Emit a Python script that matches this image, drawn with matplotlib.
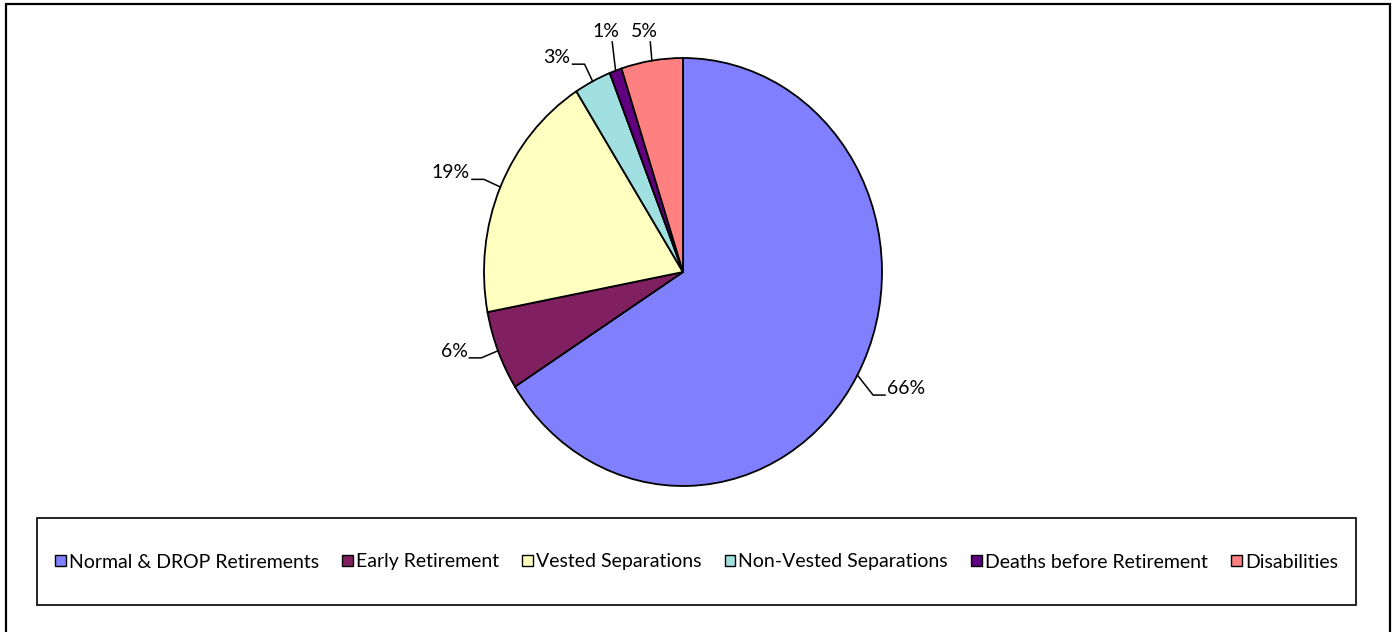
import numpy as np
import matplotlib
matplotlib.use("Agg")
import matplotlib.pyplot as plt
from matplotlib.patches import Rectangle

plt.rcParams['font.family'] = ['Lato', 'DejaVu Sans']

categories = ['Normal & DROP Retirements', 'Early Retirement', 'Vested Separations',
              'Non-Vested Separations', 'Deaths before Retirement', 'Disabilities']
shares = [66, 6, 19, 3, 1, 5]
colors = ['#8080FF', '#802060', '#FFFFC0', '#A0E0E0', '#600080', '#FF8080']

W, H = 1393, 632
fig = plt.figure(figsize=(W / 100, H / 100), dpi=100)

# outer chart border
fig.patches.append(Rectangle((6 / W, -0.01), 1384 / W, 1 - 4 / H + 0.01, transform=fig.transFigure,
                             fill=False, edgecolor='black', linewidth=1.6))

# pie is slightly taller than wide in the reference
ax = fig.add_axes([484 / W, 146 / H, 398 / W, 428 / H])
wedges, _ = ax.pie(shares, colors=colors, startangle=90, counterclock=False,
                   wedgeprops=dict(edgecolor='black', linewidth=1.3))
ax.set_aspect('auto')
ax.set_xlim(-1, 1)
ax.set_ylim(-1, 1)
ax.axis('off')

# percentage labels with leader lines
for w, v in zip(wedges, shares):
    ang = np.deg2rad((w.theta1 + w.theta2) / 2)
    ex, ey = np.cos(ang), np.sin(ang)
    label = f'{v}%'
    if abs(ex) < 0.4:
        # labels above the pie sit on one line
        tx, ty = 1.05 * ex, 1.075
        ax.plot([ex, tx], [ey, ty], color='black', lw=1.1, clip_on=False)
        ax.text(tx - 0.03, ty + 0.01, label, ha='center', va='bottom', fontsize=14, clip_on=False)
    else:
        bx, by = 1.09 * ex, 1.09 * ey - 0.05 * (ex > 0)
        side = 1 if ex > 0 else -1
        hx = bx + side * 0.06
        ax.plot([ex, bx, hx], [ey, by, by], color='black', lw=1.1, clip_on=False)
        ax.text(hx + side * 0.01, by + 0.03, label, ha='left' if side > 0 else 'right',
                va='center', fontsize=14, clip_on=False)

# legend box
fig.patches.append(Rectangle((37 / W, (H - 605) / H), 1319 / W, 87 / H, transform=fig.transFigure,
                             fill=False, edgecolor='black', linewidth=1.2))
handles = [Rectangle((0, 0), 1, 1, facecolor=c, edgecolor='black', linewidth=1.0) for c in colors]
fig.legend(handles, categories, loc='center', bbox_to_anchor=((37 + 1356) / 2 / W, (H - 562) / H),
           ncol=6, frameon=False, fontsize=14, handlelength=0.55, handleheight=0.55,
           handletextpad=0.15, columnspacing=1.2)

fig.savefig('out.png', dpi=100)
